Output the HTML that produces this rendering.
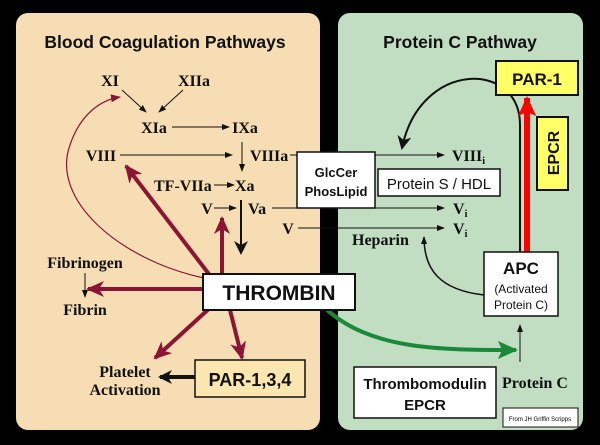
<!DOCTYPE html>
<html><head><style>
body{margin:0;background:#000;}
svg{display:block}
.s{font-family:"Liberation Serif",serif;font-weight:bold;font-size:16px;fill:#111}
.a{font-family:"Liberation Sans",sans-serif;font-weight:bold;fill:#111}
</style></head><body>
<svg width="600" height="445" viewBox="0 0 600 445">
<defs>
<marker id="k" markerWidth="8" markerHeight="8" refX="7" refY="4" orient="auto" markerUnits="userSpaceOnUse"><path d="M0,1 L8,4 L0,7 Z" fill="#111"/></marker>
<marker id="kb" markerWidth="14" markerHeight="14" refX="12" refY="7" orient="auto" markerUnits="userSpaceOnUse"><path d="M0,0 L14,7 L0,14 L4,7 Z" fill="#111"/></marker>
<marker id="r" markerWidth="18" markerHeight="16" refX="16" refY="8" orient="auto" markerUnits="userSpaceOnUse"><path d="M0,0 L18,8 L0,16 L5,8 Z" fill="#8b1535"/></marker>
<marker id="rs" markerWidth="10" markerHeight="8" refX="9" refY="4" orient="auto" markerUnits="userSpaceOnUse"><path d="M0,0 L10,4 L0,8 Z" fill="#8b1535"/></marker>
<marker id="rr" markerWidth="20" markerHeight="18" refX="18" refY="9" orient="auto" markerUnits="userSpaceOnUse"><path d="M0,0 L20,9 L0,18 L4,9 Z" fill="#f00"/></marker>
<marker id="g" markerWidth="20" markerHeight="18" refX="18" refY="9" orient="auto" markerUnits="userSpaceOnUse"><path d="M0,0 L20,9 L0,18 L4,9 Z" fill="#1a8a3a"/></marker>
</defs>
<rect x="16" y="13" width="304" height="417" rx="12" fill="#f7ddb3"/>
<rect x="338" y="13" width="245" height="417" rx="12" fill="#c2dec2"/>
<text class="a" x="165" y="48" font-size="17.5" text-anchor="middle">Blood Coagulation Pathways</text>
<text class="a" x="460" y="48" font-size="17.5" text-anchor="middle">Protein C Pathway</text>

<text class="s" x="110" y="86" text-anchor="middle">XI</text>
<text class="s" x="194" y="86" text-anchor="middle">XIIa</text>
<text class="s" x="154" y="133" text-anchor="middle">XIa</text>
<text class="s" x="245" y="133" text-anchor="middle">IXa</text>
<line x1="122" y1="90" x2="146" y2="112" stroke="#111" marker-end="url(#k)"/>
<line x1="183" y1="90" x2="159" y2="112" stroke="#111" marker-end="url(#k)"/>
<line x1="172" y1="127" x2="229" y2="127" stroke="#111" marker-end="url(#k)"/>
<text class="s" x="101" y="161" text-anchor="middle">VIII</text>
<line x1="120" y1="155" x2="232" y2="155" stroke="#111" marker-end="url(#k)"/>
<line x1="242" y1="142" x2="242" y2="171" stroke="#111" marker-end="url(#k)"/>
<text class="s" x="250" y="161">VIIIa</text>
<line x1="290" y1="155" x2="298" y2="155" stroke="#111"/>
<text class="s" x="154" y="191">TF-VIIa</text>
<line x1="214" y1="185" x2="234" y2="185" stroke="#111" marker-end="url(#k)"/>
<text class="s" x="235" y="191">Xa</text>
<text class="s" x="207" y="214" text-anchor="middle">V</text>
<line x1="214" y1="208" x2="236" y2="208" stroke="#111" marker-end="url(#k)"/>
<line x1="241" y1="200" x2="241" y2="253" stroke="#111" stroke-width="2" marker-end="url(#kb)"/>
<text class="s" x="248" y="214">Va</text>
<line x1="272" y1="208" x2="298" y2="208" stroke="#111"/>
<text class="s" x="288" y="234" text-anchor="middle">V</text>
<line x1="298" y1="228" x2="444" y2="228" stroke="#111" marker-end="url(#k)"/>

<rect x="297" y="152" width="78" height="56" fill="#fff" stroke="#111" stroke-width="1.5"/>
<text class="a" x="336" y="177" font-size="13" text-anchor="middle">GlcCer</text>
<text class="a" x="336" y="196" font-size="13" text-anchor="middle">PhosLipid</text>
<line x1="375" y1="155" x2="444" y2="155" stroke="#111" marker-end="url(#k)"/>
<text class="s" x="452" y="161">VIII<tspan font-size="10" dy="3">i</tspan></text>
<rect x="378" y="169" width="122" height="27" fill="#fff" stroke="#111" stroke-width="1.5"/>
<text class="a" x="439" y="189" font-size="15" text-anchor="middle" style="font-weight:normal">Protein S / HDL</text>
<line x1="375" y1="208" x2="444" y2="208" stroke="#111" marker-end="url(#k)"/>
<text class="s" x="453" y="214">V<tspan font-size="10" dy="3">i</tspan></text>
<text class="s" x="453" y="234">V<tspan font-size="10" dy="3">i</tspan></text>
<text class="s" x="352" y="245">Heparin</text>
<path d="M484,295 C440,290 424,270 424,237" fill="none" stroke="#111" stroke-width="1.5" marker-end="url(#k)"/>

<path d="M520,252 L520,125 C520,60 420,60 402,148" fill="none" stroke="#111" stroke-width="2" marker-end="url(#kb)"/>
<line x1="527" y1="252" x2="527" y2="98" stroke="#f00" stroke-width="6" marker-end="url(#rr)"/>
<rect x="496" y="61" width="82" height="34" fill="#ffff66" stroke="#111" stroke-width="2"/>
<text class="a" x="537" y="85" font-size="17" text-anchor="middle">PAR-1</text>
<rect x="537" y="117" width="31" height="73" fill="#ffff66" stroke="#111" stroke-width="2"/>
<text class="a" x="559" y="153" font-size="16" text-anchor="middle" transform="rotate(-90 559 153)">EPCR</text>
<rect x="484" y="252" width="74" height="64" fill="#fff" stroke="#111" stroke-width="1.5"/>
<text class="a" x="521" y="274" font-size="17" text-anchor="middle">APC</text>
<text class="a" x="521" y="293" font-size="12" text-anchor="middle" style="font-weight:normal">(Activated</text>
<text class="a" x="521" y="309" font-size="12" text-anchor="middle" style="font-weight:normal">Protein C)</text>
<line x1="520" y1="362" x2="520" y2="325" stroke="#111" marker-end="url(#k)"/>
<text class="s" x="502" y="388">Protein C</text>
<rect x="354" y="367" width="142" height="51" fill="#fff" stroke="#111" stroke-width="1.5"/>
<text class="a" x="425" y="389" font-size="15" text-anchor="middle">Thrombomodulin</text>
<text class="a" x="425" y="410" font-size="15" text-anchor="middle">EPCR</text>
<rect x="503" y="408" width="75" height="19" fill="#fff" stroke="#111"/>
<text x="540" y="421" font-size="6" text-anchor="middle" font-family="Liberation Sans,sans-serif">From JH Griffin Scripps</text>

<path d="M325,308 C370,350 440,350 516,350" fill="none" stroke="#1a8a3a" stroke-width="4" marker-end="url(#g)"/>

<path d="M204,278 C120,260 50,200 70,145 C80,115 100,100 120,97" fill="none" stroke="#8b1535" stroke-width="1.2" marker-end="url(#rs)"/>
<g stroke="#8b1535" stroke-width="4" fill="none">
<line x1="215" y1="282" x2="126" y2="166" marker-end="url(#r)"/>
<line x1="222" y1="278" x2="222" y2="218" marker-end="url(#r)"/>
<line x1="205" y1="289" x2="88" y2="289" marker-end="url(#r)"/>
<line x1="212" y1="306" x2="155" y2="358" marker-end="url(#r)"/>
<line x1="229" y1="306" x2="242" y2="358" marker-end="url(#r)"/>
</g>
<rect x="203" y="274" width="152" height="36" fill="#fff" stroke="#111" stroke-width="2"/>
<text class="a" x="279" y="300" font-size="21" text-anchor="middle">THROMBIN</text>

<text class="s" x="85" y="268" text-anchor="middle">Fibrinogen</text>
<line x1="85" y1="273" x2="85" y2="297" stroke="#111" marker-end="url(#k)"/>
<text class="s" x="85" y="315" text-anchor="middle">Fibrin</text>
<text class="s" x="125" y="377" text-anchor="middle">Platelet</text>
<text class="s" x="125" y="395" text-anchor="middle">Activation</text>
<line x1="195" y1="377" x2="160" y2="377" stroke="#111" stroke-width="4" marker-end="url(#kb)"/>
<rect x="195" y="360" width="110" height="37" fill="#fbe6b0" stroke="#111" stroke-width="1.5"/>
<text class="a" x="250" y="386" font-size="18" text-anchor="middle">PAR-1,3,4</text>
</svg>
</body></html>
